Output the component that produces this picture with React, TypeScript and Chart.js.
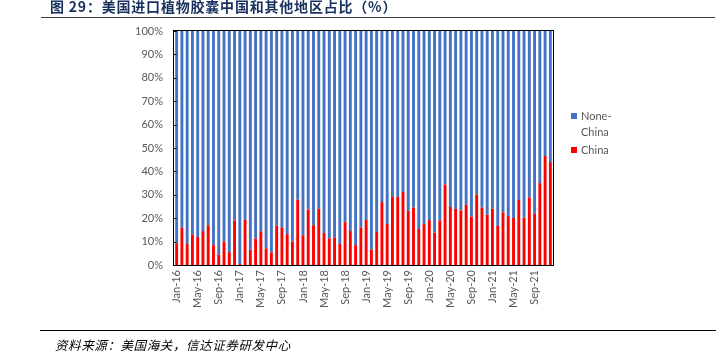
import React, { useEffect, useRef } from "react";
import { Chart, registerables } from "chart.js";

Chart.register(...registerables);

const TITLE = "图 29：美国进口植物胶囊中国和其他地区占比（%）";
const SOURCE = "资料来源：美国海关，信达证券研发中心";

const MONTHS = ["Jan", "Feb", "Mar", "Apr", "May", "Jun", "Jul", "Aug", "Sep", "Oct", "Nov", "Dec"];
const YEARS = ["16", "17", "18", "19", "20", "21"];
const CATEGORIES = YEARS.flatMap((y) => MONTHS.map((m) => `${m}-${y}`));

const SERIES_NAMES = ["China", "None-China"];
const LEGEND_LABELS = [["None-", "China"], ["China"]];

const CHINA = [
  9.3, 16, 9, 13, 12, 14.5, 17, 8.5, 4.5, 10, 5.5, 19,
  0.4, 19.3, 6.5, 11.3, 14.4, 7.1, 5.4, 16.8, 16, 13.2, 10, 27.9,
  12.7, 23.7, 17, 24, 13.7, 11.4, 11.8, 9, 18.3, 14.5, 8.5, 16,
  19.2, 6.6, 14.1, 26.9, 17.6, 29.1, 29.1, 31.2, 23.2, 24.5, 15.4, 17.5,
  19.2, 13.8, 19.1, 34.4, 24.8, 24, 23.3, 25.7, 20.7, 30, 24.5, 21.5,
  24.1, 16.7, 22.5, 20.9, 20.1, 27.8, 20.2, 28.9, 21.9, 35, 46.6, 44,
];

const NONE_CHINA = [
  90.7, 84, 91, 87, 88, 85.5, 83, 91.5, 95.5, 90, 94.5, 81,
  99.6, 80.7, 93.5, 88.7, 85.6, 92.9, 94.6, 83.2, 84, 86.8, 90, 72.1,
  87.3, 76.3, 83, 76, 86.3, 88.6, 88.2, 91, 81.7, 85.5, 91.5, 84,
  80.8, 93.4, 85.9, 73.1, 82.4, 70.9, 70.9, 68.8, 76.8, 75.5, 84.6, 82.5,
  80.8, 86.2, 80.9, 65.6, 75.2, 76, 76.7, 74.3, 79.3, 70, 75.5, 78.5,
  75.9, 83.3, 77.5, 79.1, 79.9, 72.2, 79.8, 71.1, 78.1, 65, 53.4, 56,
];

const Y_TICKS = [0, 10, 20, 30, 40, 50, 60, 70, 80, 90, 100];

const RED = "#FF0000";
const BLUE = "#4472C4";
const GRAY = "#595959";
const TICK_FONT = "Lato, 'Open Sans', sans-serif";

const frame = {
  id: "frame",
  afterDraw(chart: any) {
    const { ctx, chartArea: a } = chart;
    const ys = chart.scales.y;
    ctx.save();
    ctx.strokeStyle = "#000";
    ctx.lineWidth = 1;
    const l = Math.round(a.left) - 0.5;
    const r = Math.round(a.right) + 0.5;
    const t = Math.round(a.top) - 0.5;
    const b = Math.round(a.bottom) + 0.5;
    ctx.strokeRect(l, t, r - l, b - t);
    ctx.beginPath();
    Y_TICKS.forEach((v) => {
      const y = Math.round(ys.getPixelForValue(v)) + 0.5;
      ctx.moveTo(l, y);
      ctx.lineTo(l + 3, y);
    });
    ctx.stroke();
    ctx.restore();
  },
};

export default function App() {
  const ref = useRef<HTMLCanvasElement | null>(null);

  useEffect(() => {
    document.body.style.margin = "0";
    if (!ref.current) return;
    const chart = new Chart(ref.current, {
      type: "bar",
      data: {
        labels: CATEGORIES,
        datasets: [
          {
            label: SERIES_NAMES[0],
            data: CHINA,
            backgroundColor: RED,
            barPercentage: 0.55,
            categoryPercentage: 1,
          },
          {
            label: SERIES_NAMES[1],
            data: NONE_CHINA,
            backgroundColor: BLUE,
            barPercentage: 0.55,
            categoryPercentage: 1,
          },
        ],
      },
      options: {
        animation: false,
        responsive: true,
        maintainAspectRatio: false,
        layout: { padding: { left: 0, top: 31, right: 166, bottom: 0 } },
        plugins: {
          legend: { display: false },
          tooltip: { enabled: false },
          title: { display: false },
        },
        scales: {
          x: {
            stacked: true,
            offset: true,
            grid: { display: false, drawTicks: false },
            border: { display: false },
            afterFit: (s: any) => {
              s.height = 97;
            },
            ticks: {
              autoSkip: false,
              maxRotation: 90,
              minRotation: 90,
              padding: 5,
              color: GRAY,
              font: { family: TICK_FONT, size: 11 },
              callback: (_v: any, i: number) => (i % 4 === 0 ? CATEGORIES[i] : ""),
            },
          },
          y: {
            stacked: true,
            min: 0,
            max: 100,
            grid: { display: false, drawTicks: false },
            border: { display: false },
            afterFit: (s: any) => {
              s.width = 174;
            },
            afterBuildTicks: (s: any) => {
              s.ticks = Y_TICKS.map((v) => ({ value: v }));
            },
            ticks: {
              padding: 11,
              color: GRAY,
              font: { family: TICK_FONT, size: 11 },
              callback: (v: any) => `${v}%`,
            },
          },
        },
      },
      plugins: [frame],
    });
    return () => chart.destroy();
  }, []);

  const legendColors = [BLUE, RED];

  return (
    <div style={{ position: "relative", width: 719, height: 362, overflow: "hidden", background: "#fff" }}>
      <canvas ref={ref} style={{ position: "absolute", left: 0, top: 0 }} width={719} height={362} />
      <div
        style={{
          position: "absolute",
          left: 50,
          top: -2,
          fontFamily: "'Noto Sans CJK SC', sans-serif",
          fontWeight: 700,
          fontSize: 14,
          lineHeight: "16px",
          letterSpacing: 0.8,
          color: "#17305E",
          whiteSpace: "nowrap",
        }}
      >
        {TITLE}
      </div>
      <div style={{ position: "absolute", left: 41, right: 4, top: 17, height: 1, background: "#404040" }} />
      <div style={{ position: "absolute", left: 40, right: 3, top: 330, height: 1, background: "#000" }} />
      <div
        style={{
          position: "absolute",
          left: 55,
          top: 336,
          fontFamily: "'Noto Sans CJK SC', sans-serif",
          fontStyle: "italic",
          fontSize: 12.5,
          lineHeight: "18px",
          letterSpacing: 0.6,
          color: "#000",
          whiteSpace: "nowrap",
        }}
      >
        {SOURCE}
      </div>
      <div style={{ position: "absolute", left: 571, top: 108, fontFamily: TICK_FONT, fontSize: 11, color: GRAY }}>
        {LEGEND_LABELS.map((lines, i) => (
          <div key={i} style={{ position: "relative", paddingLeft: 10, lineHeight: "16px", marginBottom: 2 }}>
            <span
              style={{
                position: "absolute",
                left: 0,
                top: 5,
                width: 6,
                height: 6,
                background: legendColors[i],
              }}
            />
            {lines.map((t, j) => (
              <div key={j}>{t}</div>
            ))}
          </div>
        ))}
      </div>
    </div>
  );
}
